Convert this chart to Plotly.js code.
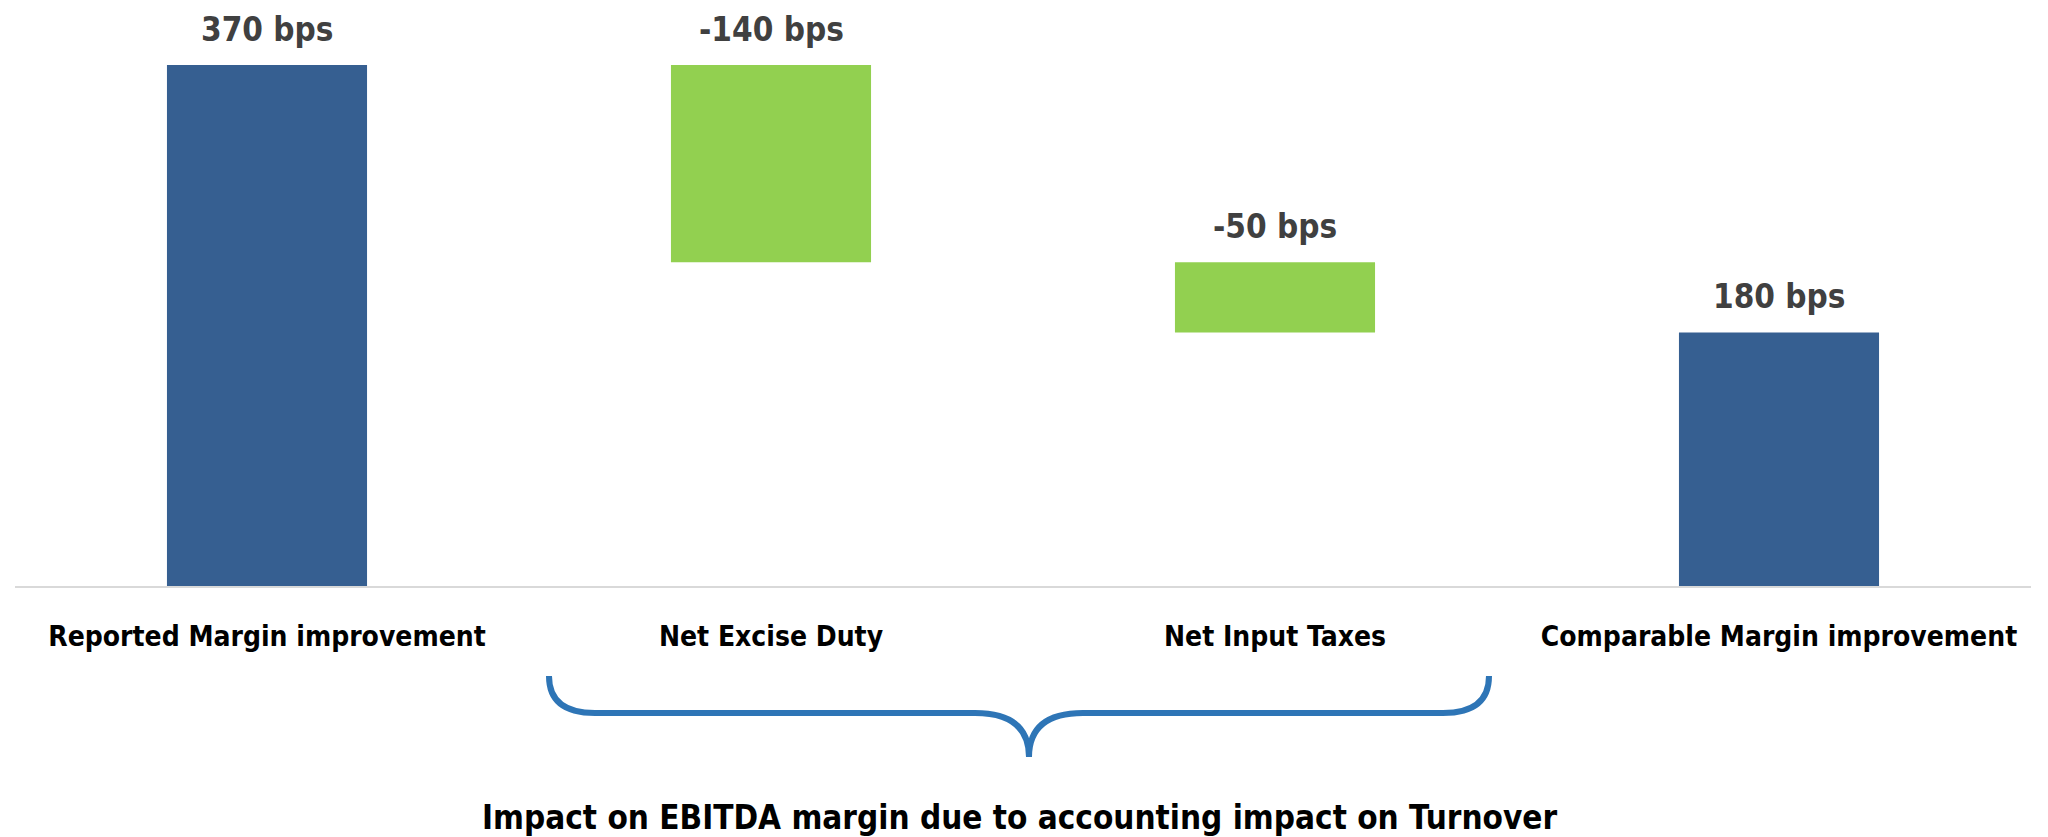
<!DOCTYPE html>
<html>
<head>
<meta charset="utf-8">
<script src="https://cdn.plot.ly/plotly-3.0.1.min.js"></script>
<style>
  html, body { margin: 0; padding: 0; background: #ffffff; }
  #chart { width: 2048px; height: 837px; }
</style>
</head>
<body>
<div id="chart"></div>
<script>
// ---- Data ----
const categories = ["Reported Margin improvement", "Net Excise Duty", "Net Input Taxes", "Comparable Margin improvement"];
const changes = [370, -140, -50, 180];           // bps
const measures = ["absolute", "relative", "relative", "total"];
const valueLabels = ["370 bps", "-140 bps", "-50 bps", "180 bps"];
const bracketCaption = "Impact on EBITDA margin due to accounting impact on Turnover";

// ---- Styles ----
const BLUE = "#365F91";
const GREEN = "#92D050";
const FONT = "DejaVu Sans Condensed, DejaVu Sans, sans-serif";

// Build waterfall geometry from the data
const bases = [], heights = [], tops = [], colors = [];
let running = 0;
for (let i = 0; i < changes.length; i++) {
  if (measures[i] === "absolute") {
    bases.push(0); heights.push(changes[i]); running = changes[i];
    colors.push(BLUE);
  } else if (measures[i] === "total") {
    bases.push(0); heights.push(running);
    colors.push(BLUE);
  } else {
    const next = running + changes[i];
    bases.push(Math.min(running, next));
    heights.push(Math.abs(changes[i]));
    running = next;
    colors.push(GREEN);
  }
  tops.push(bases[i] + heights[i]);
}

// Layout geometry (pixels)
const W = 2048, H = 837;
const M = {l: 15, r: 17, t: 60, b: 251};
const plotW = W - M.l - M.r, plotH = H - M.t - M.b;
const px = x => (x - M.l) / plotW;               // pixel -> paper x
const py = y => (H - M.b - y) / plotH;           // pixel -> paper y

// Curly brace below the middle two categories
const bx0 = 549, bx1 = 1489, bmid = 1029, byTop = 676, byLine = 713, byTip = 757, r = 46;
const P = (x, y) => px(x).toFixed(5) + "," + py(y).toFixed(5);
const bracePath =
  "M" + P(bx0, byTop) +
  " Q" + P(bx0, byLine) + " " + P(bx0 + r, byLine) +
  " L" + P(bmid - r - 8, byLine) +
  " Q" + P(bmid, byLine) + " " + P(bmid, byTip) +
  " Q" + P(bmid, byLine) + " " + P(bmid + r + 8, byLine) +
  " L" + P(bx1 - r, byLine) +
  " Q" + P(bx1, byLine) + " " + P(bx1, byTop);

const trace = {
  type: "bar",
  x: categories,
  y: heights,
  base: bases,
  width: 0.397,
  marker: {color: colors, line: {width: 0}},
  hoverinfo: "skip",
  showlegend: false
};

const annotations = categories.map((c, i) => ({
  x: c, y: tops[i], xref: "x", yref: "y",
  text: valueLabels[i],
  showarrow: false,
  yanchor: "middle",
  yshift: 36,
  font: {family: FONT, size: 33, color: "#404040", weight: "bold"}
}));
annotations.push({
  x: px(1020), y: py(817), xref: "paper", yref: "paper",
  text: bracketCaption, showarrow: false,
  xanchor: "center", yanchor: "middle",
  font: {family: FONT, size: 33, color: "#000000", weight: "bold"}
});

const layout = {
  width: W, height: H,
  margin: M,
  paper_bgcolor: "#ffffff",
  plot_bgcolor: "#ffffff",
  showlegend: false,
  xaxis: {
    type: "category",
    range: [-0.5, categories.length - 0.5],
    showline: true, linecolor: "#d9d9d9", linewidth: 2,
    showgrid: false, zeroline: false,
    ticks: "", ticklabelstandoff: 24,
    tickfont: {family: FONT, size: 28, color: "#000000", weight: "bold"},
    fixedrange: true
  },
  yaxis: {
    range: [0, 370 * plotH / 521],
    visible: false, showgrid: false, zeroline: false,
    fixedrange: true
  },
  annotations: annotations,
  shapes: [{
    type: "path", xref: "paper", yref: "paper",
    path: bracePath,
    line: {color: "#2E75B6", width: 6}
  }]
};

Plotly.newPlot("chart", [trace], layout, {displayModeBar: false, staticPlot: true});
</script>
</body>
</html>
